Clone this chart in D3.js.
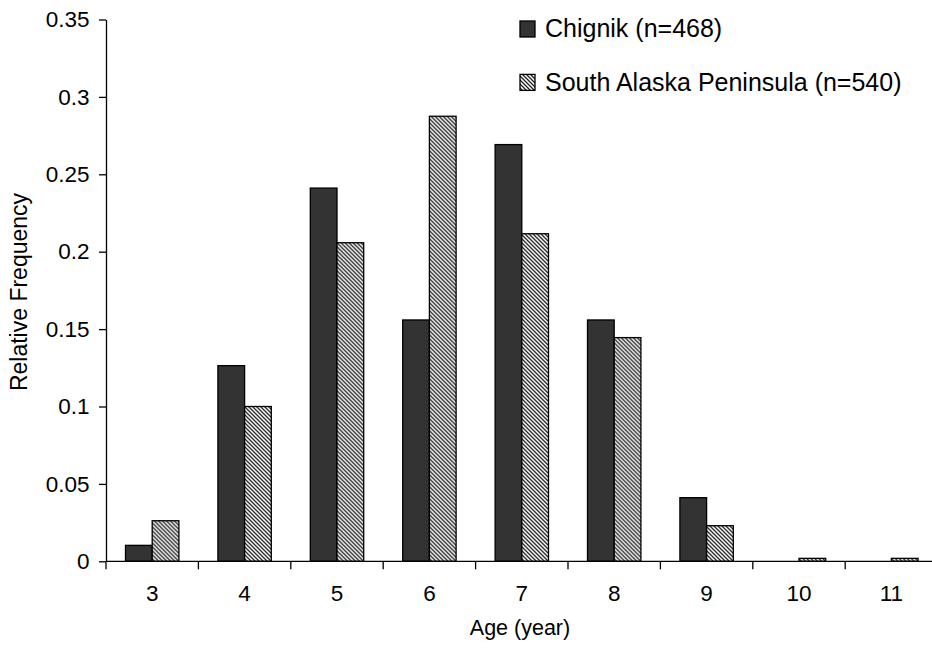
<!DOCTYPE html>
<html>
<head>
<meta charset="utf-8">
<script src="https://cdn.jsdelivr.net/npm/d3@7"></script>
<style>
  body { margin: 0; background: #fff; }
  svg { display: block; font-family: "Liberation Sans", Arial, sans-serif; }
</style>
</head>
<body>
<div id="chart"></div>
<script>
// ages on the x axis
const ages = ["3", "4", "5", "6", "7", "8", "9", "10", "11"];
// relative frequency per age
const chignik = [0.0103, 0.1264, 0.2411, 0.1559, 0.2692, 0.1559, 0.0411, 0, 0];
const southAlaska = [0.0262, 0.1, 0.2058, 0.2875, 0.2116, 0.1445, 0.023, 0.0019, 0.0019];
const yTicks = [0, 0.05, 0.1, 0.15, 0.2, 0.25, 0.3, 0.35];
const seriesNames = ["Chignik (n=468)", "South Alaska Peninsula (n=540)"];

const W = 932, H = 651;
const margin = {top: 19.5, left: 106, bottom: 89.7};

const svg = d3.select("#chart").append("svg")
  .attr("width", W)
  .attr("height", H);

// hatch for the second series
const defs = svg.append("defs");
defs.append("pattern")
  .attr("id", "hatch")
  .attr("patternUnits", "userSpaceOnUse")
  .attr("width", 4)
  .attr("height", 4)
  .call(p => {
    p.append("rect").attr("width", 4).attr("height", 4).attr("fill", "#fff");
    p.append("path")
      .attr("d", "M-1,-1 L5,5 M3,-1 L5,1 M-1,3 L1,5")
      .attr("stroke", "#222")
      .attr("stroke-width", 1.3);
  });

const x = d3.scaleBand()
  .domain(ages)
  .range([margin.left, margin.left + 9 * 92.4])
  .paddingInner(0)
  .paddingOuter(0);

const inner = d3.scaleBand()
  .domain([0, 1])
  .range([0, 53.4])
  .padding(0);

const y = d3.scaleLinear()
  .domain([0, 0.35])
  .range([H - margin.bottom, margin.top]);

// bars
const rows = ages.map((a, i) => ({age: a, vals: [chignik[i], southAlaska[i]]}));
const groups = svg.append("g").selectAll("g")
  .data(rows)
  .join("g")
  .attr("transform", d => `translate(${x(d.age) + (x.bandwidth() - 53.4) / 2},0)`);

groups.selectAll("rect")
  .data(d => d.vals.map((v, k) => ({k, v})).filter(e => e.v > 0))
  .join("rect")
  .attr("x", d => inner(d.k))
  .attr("y", d => y(d.v))
  .attr("width", inner.bandwidth())
  .attr("height", d => y(0) - y(d.v))
  .attr("fill", d => d.k === 0 ? "#333333" : "url(#hatch)")
  .attr("stroke", "#000")
  .attr("stroke-width", 1.3);

// y axis
const yAxis = svg.append("g")
  .attr("transform", `translate(${margin.left},0)`)
  .call(d3.axisLeft(y).tickValues(yTicks).tickFormat(d => d3.format("")(+d.toFixed(2))).tickSize(7).tickSizeOuter(0));
yAxis.selectAll("text").attr("font-size", 22.5).attr("fill", "#000").attr("dx", -6.5);
yAxis.selectAll("line, path").attr("stroke", "#000").attr("stroke-width", 1.3);

// x axis, ticks sit on the category boundaries
const xAxisG = svg.append("g")
  .attr("transform", `translate(0,${y(0)})`);
xAxisG.append("line")
  .attr("x1", margin.left).attr("x2", x.range()[1])
  .attr("stroke", "#000").attr("stroke-width", 1.3);
xAxisG.selectAll(".tk")
  .data(ages)
  .join("line")
  .attr("x1", d => x(d)).attr("x2", d => x(d))
  .attr("y1", 0).attr("y2", 8)
  .attr("stroke", "#000").attr("stroke-width", 1.3);
xAxisG.selectAll("text")
  .data(ages)
  .join("text")
  .attr("x", d => x(d) + x.bandwidth() / 2)
  .attr("y", 40.2)
  .attr("text-anchor", "middle")
  .attr("font-size", 22.5)
  .text(d => d);

// axis titles
svg.append("text")
  .attr("x", 520)
  .attr("y", 635)
  .attr("text-anchor", "middle")
  .attr("font-size", 21.5)
  .text("Age (year)");

svg.append("text")
  .attr("transform", "translate(27,292) rotate(-90)")
  .attr("text-anchor", "middle")
  .attr("font-size", 23)
  .text("Relative Frequency");

// legend
const legend = svg.append("g");
seriesNames.forEach((name, i) => {
  const ly = 21 + i * 53.4;
  legend.append("rect")
    .attr("x", 520).attr("y", ly)
    .attr("width", 15).attr("height", 16)
    .attr("fill", i === 0 ? "#333333" : "url(#hatch)")
    .attr("stroke", "#000").attr("stroke-width", 1.3);
  legend.append("text")
    .attr("x", 545).attr("y", ly + 16.3)
    .attr("font-size", 25)
    .text(name);
});
</script>
</body>
</html>
